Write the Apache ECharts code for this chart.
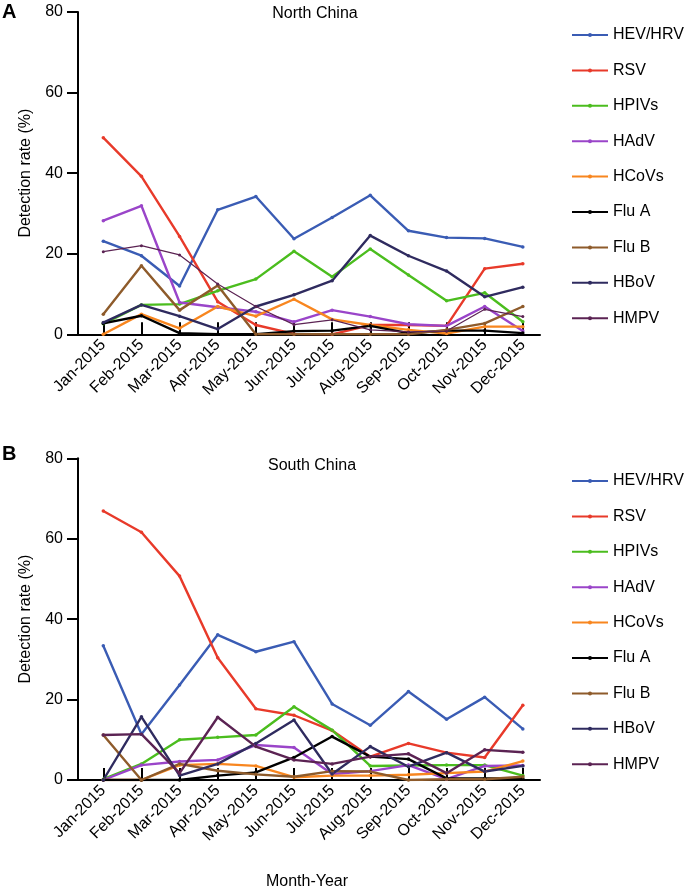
<!DOCTYPE html>
<html>
<head>
<meta charset="utf-8">
<script src="https://cdn.jsdelivr.net/npm/echarts@6/dist/echarts.min.js"></script>
<style>
html,body{margin:0;padding:0;background:#fff;}
#chart{width:685px;height:893px;}
</style>
</head>
<body>
<div id="chart"></div>
<script>
const months = ['Jan-2015','Feb-2015','Mar-2015','Apr-2015','May-2015','Jun-2015','Jul-2015','Aug-2015','Sep-2015','Oct-2015','Nov-2015','Dec-2015'];
const seriesNames = ['HEV/HRV','RSV','HPIVs','HAdV','HCoVs','Flu A','Flu B','HBoV','HMPV'];
const seriesColors = ['#3a5cb4','#e83a2a','#4bbd1e','#9a45c9','#f8861f','#000000','#8e5b2b','#2f2b5f','#5b2353'];
const yTicks = [0,20,40,60,80];

// North China
const northHEV   = [23.1,19.5,12.0,30.9,34.2,23.7,29.0,34.5,25.7,24.0,23.8,21.7];
const northRSV   = [48.8,39.2,24.3,8.1,2.3,0.1,0.0,2.3,2.3,2.1,16.3,17.5];
const northHPIV  = [2.6,7.3,7.5,10.8,13.7,20.6,14.3,21.2,14.7,8.3,10.3,3.1];
const northHAdV  = [28.2,31.9,7.9,6.7,5.6,3.1,6.0,4.4,2.5,2.1,6.9,0.8];
const northHCoV  = [0.0,5.0,1.5,6.9,4.5,8.7,3.7,2.3,1.1,0.2,1.9,1.9];
const northFluA  = [2.7,4.6,0.3,0.0,0.0,0.8,0.9,2.1,0.3,0.9,0.9,0.3];
const northFluB  = [5.0,17.0,6.0,12.1,0.0,0.0,0.0,0.0,0.0,1.1,2.7,6.9];
const northHBoV  = [2.9,7.3,4.5,1.3,6.9,9.8,13.3,24.5,19.5,15.7,9.3,11.7];
const northHMPV  = [20.5,22.0,19.7,12.5,6.9,2.4,3.6,1.1,0.6,0.8,6.2,4.4];

// South China
const southHEV   = [33.4,11.4,23.6,36.1,31.9,34.4,18.9,13.6,22.0,15.1,20.6,12.7];
const southRSV   = [66.9,61.6,50.7,30.4,17.7,16.1,12.3,5.8,9.1,6.8,5.6,18.6];
const southHPIV  = [0.2,4.0,10.0,10.6,11.2,18.2,12.4,3.5,3.6,3.7,3.7,1.1];
const southHAdV  = [0.0,3.7,4.6,5.0,8.7,8.1,1.5,2.2,3.7,0.2,3.5,3.6];
const southHCoV  = [0.0,0.0,3.7,4.0,3.5,0.7,1.1,1.1,1.3,1.7,2.1,4.7];
const southFluA  = [0.0,0.0,0.0,1.1,1.9,5.6,10.8,5.8,5.2,0.4,0.4,0.4];
const southFluB  = [11.2,0.0,4.0,2.3,1.4,0.8,2.2,2.1,0.0,0.2,0.2,0.8];
const southHBoV  = [0.0,15.7,1.1,4.0,9.1,14.9,1.5,8.3,3.3,6.8,2.1,3.5];
const southHMPV  = [11.2,11.4,1.7,15.6,8.3,5.0,4.0,5.8,6.5,1.7,7.5,6.9];

const northData = [northHEV,northRSV,northHPIV,northHAdV,northHCoV,northFluA,northFluB,northHBoV,northHMPV];
const southData = [southHEV,southRSV,southHPIV,southHAdV,southHCoV,southFluA,southFluB,southHBoV,southHMPV];

const FONT = 'Liberation Sans, Arial, sans-serif';
const monthIdx = months.map((m,i)=>i);

function xAxisCfg(gi){
  return {
    type:'value', gridIndex:gi, min:-0.663, max:11.45,
    splitLine:{show:false},
    axisLine:{show:true, onZero:false, lineStyle:{color:'#000', width:2}},
    axisTick:{show:true, inside:true, length:12, customValues:monthIdx, lineStyle:{color:'#000', width:2}},
    axisLabel:{show:true, customValues:monthIdx, rotate:45, fontSize:16, color:'#000', fontFamily:FONT, margin:8,
      formatter:(v)=>months[Math.round(v)] || ''}
  };
}
function yAxisCfg(gi){
  return {
    type:'value', gridIndex:gi, min:0, max:80, interval:20,
    name:'Detection rate (%)', nameLocation:'middle', nameGap:44,
    nameTextStyle:{fontSize:16, color:'#000', fontFamily:FONT},
    splitLine:{show:false},
    axisLine:{show:true, onZero:false, lineStyle:{color:'#000', width:2}},
    axisTick:{show:true, length:11, lineStyle:{color:'#000', width:2}},
    axisLabel:{fontSize:16, color:'#000', fontFamily:FONT, margin:15,
      formatter:(v)=> yTicks.includes(v) ? String(v) : ''}
  };
}

const series = [];
[northData, southData].forEach((set, gi)=>{
  set.forEach((arr, k)=>{
    const thin = (gi===0 && k===8);
    series.push({
      name: seriesNames[k], type:'line', xAxisIndex:gi, yAxisIndex:gi,
      data: arr.map((v,i)=>[i,v]),
      symbol:'circle', symbolSize: thin ? 3 : 3.5, showSymbol:true,
      itemStyle:{color:seriesColors[k]},
      lineStyle:{color:seriesColors[k], width: thin ? 1.2 : 2.4},
      emphasis:{disabled:true}, animation:false, z: 2
    });
  });
});

function legendCfg(top){
  return {
    orient:'vertical', left:566, top:top, itemWidth:36, itemHeight:5, itemGap:19.4,
    textStyle:{fontSize:16, color:'#000', fontFamily:FONT, lineHeight:16},
    data: seriesNames, selectedMode:false
  };
}

const chart = echarts.init(document.getElementById('chart'), null, {renderer:'canvas'});
chart.setOption({
  backgroundColor:'#fff',
  animation:false,
  grid:[
    {left:78, right:145, top:12, bottom:558.7, containLabel:false},
    {left:78, right:145, top:458.3, bottom:113, containLabel:false}
  ],
  xAxis:[xAxisCfg(0), xAxisCfg(1)],
  yAxis:[yAxisCfg(0), yAxisCfg(1)],
  legend:[legendCfg(22), legendCfg(468)],
  series: series,
  graphic:[
    {type:'text', left:2, top:2, style:{text:'A', font:'bold 20px '+FONT, fill:'#000'}},
    {type:'text', left:2, top:444, style:{text:'B', font:'bold 20px '+FONT, fill:'#000'}},
    {type:'text', x:315, y:14, style:{text:'North China', font:'16px '+FONT, fill:'#000', align:'center', verticalAlign:'middle'}},
    {type:'text', x:312, y:466, style:{text:'South China', font:'16px '+FONT, fill:'#000', align:'center', verticalAlign:'middle'}},
    {type:'text', x:307, y:882, style:{text:'Month-Year', font:'16px '+FONT, fill:'#000', align:'center', verticalAlign:'middle'}}
  ]
});
</script>
</body>
</html>
